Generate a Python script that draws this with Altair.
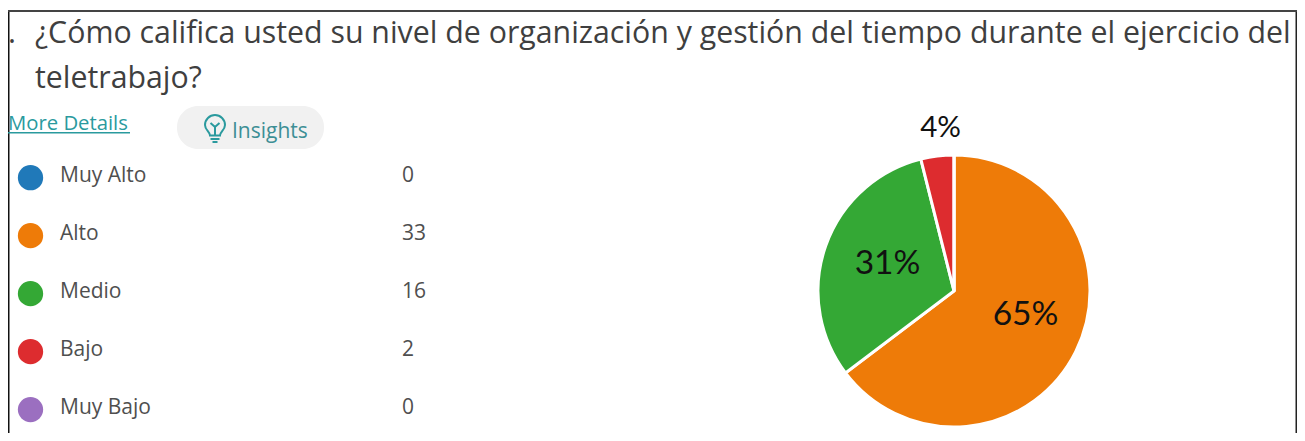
import altair as alt
import pandas as pd

categories = ["Muy Alto", "Alto", "Medio", "Bajo", "Muy Bajo"]
counts = [0, 33, 16, 2, 0]
colors = ["#2079b9", "#ee7b08", "#34a835", "#dd2c2f", "#9b6fc0"]
pct_labels = ["65%", "31%", "4%"]

OX, OY = 8, 8
W, H = 1289, 425
df = pd.DataFrame({"cat": categories, "n": counts, "ord": list(range(5)), "count_label": [str(c) for c in counts]})

color = alt.Color("cat:N", scale=alt.Scale(domain=categories, range=colors), legend=None)
ys = alt.Y("cat:N", sort=categories, axis=None,
           scale=alt.Scale(type="point", domain=categories, padding=0, range=[177.7 - OY, 409.6 - OY]))

pie = alt.Chart(df).mark_arc(outerRadius=136, stroke="white", strokeWidth=3).encode(
    theta=alt.Theta("n:Q", stack=True, scale=alt.Scale(range=[0, 6.2832])),
    order=alt.Order("ord:Q"), color=color,
    x=alt.value(954 - OX), y=alt.value(291 - OY))

dots = alt.Chart(df).mark_circle(size=640, opacity=1).encode(x=alt.value(30.5 - OX), y=ys, color=color)
names = alt.Chart(df).mark_text(align="left", baseline="middle", dy=-2, font="Open Sans", fontSize=21, color="#4f4f4f").encode(
    x=alt.value(60 - OX), y=ys, text="cat:N")
vals = alt.Chart(df).mark_text(align="left", baseline="middle", dy=-2, font="Open Sans", fontSize=21, color="#4f4f4f").encode(
    x=alt.value(402 - OX), y=ys, text="count_label:N")

def text(s, x, y, size, col, font="Open Sans", align="left"):
    return alt.Chart(pd.DataFrame({"t": [s]})).mark_text(
        align=align, baseline="alphabetic", font=font, fontSize=size, color=col
    ).encode(x=alt.value(x - OX), y=alt.value(y - OY), text="t:N")

def box(x, y, x2, y2, **kw):
    return alt.Chart(pd.DataFrame({"a": [0]})).mark_rect(**kw).encode(
        x=alt.value(x - OX), x2=alt.value(x2 - OX), y=alt.value(y - OY), y2=alt.value(y2 - OY))

frame = [
    box(8, 10, 1297, 12, color="#444444"),
    box(8, 12, 9.5, 433, color="#111111"),
    box(1295.5, 12, 1297, 433, color="#222222"),
]
pill = box(177, 106, 324, 149, color="#f1f1f1", cornerRadius=21)
bulb = alt.Chart(pd.DataFrame({"a": [0]})).mark_point(
    shape="M-0.5,0.45 C-0.5,0.1 -1,-0.1 -1,-0.6 A1,1 0 1 1 1,-0.6 C1,-0.1 0.5,0.1 0.5,0.45 Z M-0.45,0.8 L0.45,0.8 M-0.25,1.1 L0.25,1.1 M0,0.45 L0,-0.4 M-0.45,-0.8 L0,-0.4 L0.45,-0.8",
    size=400, filled=False, color="#2a9a9e", strokeWidth=2, opacity=1).encode(
    x=alt.value(215 - OX), y=alt.value(131 - OY))

layers = frame + [
    pill, bulb, pie, dots, names, vals,
    text(".", 8, 43, 30.3, "#3f3f3f"),
    text("¿Cómo califica usted su nivel de organización y gestión del tiempo durante el ejercicio del", 35, 43, 30.3, "#3f3f3f"),
    text("teletrabajo?", 35, 88, 30.3, "#3f3f3f"),
    text("More Details", 8, 130, 20.3, "#2a9a9e"),
    box(8, 132, 130, 133.4, color="#2a9a9e"),
    text("Insights", 232, 138, 21, "#3d8f95"),
    text("65%", 1025.5, 325, 33.5, "#111111", "Lato", "center"),
    text("31%", 887.5, 274, 33.5, "#111111", "Lato", "center"),
    text("4%", 940.5, 137, 29.5, "#111111", "Lato", "center"),
]
chart = alt.layer(*layers).resolve_scale(color="shared").properties(
    width=W, height=H, padding=0, autosize=alt.AutoSizeParams(type="none"),
    background="white"
).configure_view(stroke=None)
chart.save("out.html", embed_options={"renderer": "svg", "actions": False})
